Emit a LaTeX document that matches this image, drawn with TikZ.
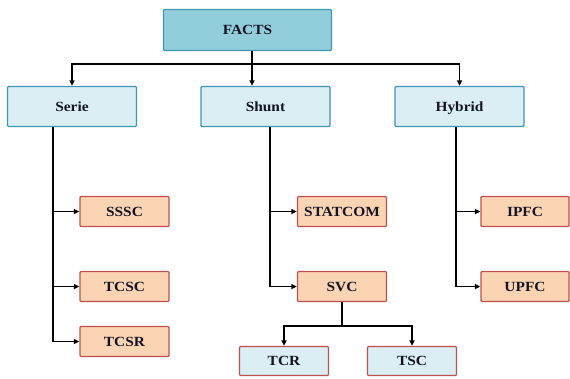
\documentclass[tikz,border=0pt]{standalone}
\usepackage{fontspec}
\setmainfont{Liberation Serif}[FakeStretch=1.1]
\usetikzlibrary{arrows.meta}
\definecolor{factsfill}{RGB}{146,205,220}
\definecolor{tealborder}{RGB}{62,150,178}
\definecolor{lightblue}{RGB}{218,238,243}
\definecolor{orangefill}{RGB}{251,212,180}
\definecolor{redborder}{RGB}{192,80,77}
\definecolor{txt}{RGB}{20,20,35}
\tikzset{
  base/.style={rectangle, rounded corners=1pt, line width=1.3pt, inner sep=0pt,
    text height=9.3pt, text depth=0pt,
    font=\fontsize{14}{16}\selectfont\bfseries, text=txt},
  topbox/.style={base, draw=tealborder, fill=factsfill},
  catbox/.style={base, draw=tealborder, fill=lightblue, minimum width=129pt, minimum height=40pt},
  devbox/.style={base, draw=redborder, fill=orangefill, minimum width=89pt, minimum height=30pt},
  subbox/.style={base, draw=redborder, fill=lightblue, minimum width=89pt, minimum height=29pt},
  conn/.style={line width=1.3pt, draw=black},
  arr/.style={conn, -{Triangle[length=5.5pt,width=5pt]}}
}
\begin{document}
\begin{tikzpicture}[x=1pt,y=-1pt]
\useasboundingbox (0,0) rectangle (570,378);
\node[topbox, minimum width=168pt, minimum height=41pt] (FACTS) at (247.5,30) {FACTS};
\node[catbox] (Serie) at (72,106.5) {Serie};
\node[catbox] (Shunt) at (265.5,106.5) {Shunt};
\node[catbox] (Hybrid) at (459.5,106.5) {Hybrid};
\node[devbox] (SSSC) at (124.5,211.5) {SSSC};
\node[devbox] (TCSC) at (124.5,286.5) {TCSC};
\node[devbox] (TCSR) at (124.5,341.5) {TCSR};
\node[devbox] (STATCOM) at (342,211.5) {STATCOM};
\node[devbox] (SVC) at (342,286.5) {SVC};
\node[devbox, minimum width=88pt] (IPFC) at (525,211.5) {IPFC};
\node[devbox, minimum width=88pt] (UPFC) at (525,286.5) {UPFC};
\node[subbox] (TCR) at (284,361) {TCR};
\node[subbox] (TSC) at (412,361) {TSC};
% connectors
\coordinate (bus) at (252,64);
\draw[conn] (bus |- FACTS.south) -- (bus);
\draw[arr] (bus) -| (Serie.north);
\draw[arr] (bus) -- (bus |- Shunt.north);
\draw[arr] (bus) -| (Hybrid.north);
\coordinate (sl) at (53,0);
\draw[arr] (sl |- Serie.south) |- (SSSC.west);
\draw[arr] (sl |- Serie.south) |- (TCSC.west);
\draw[arr] (sl |- Serie.south) |- (TCSR.west);
\coordinate (shl) at (270,0);
\draw[arr] (shl |- Shunt.south) |- (STATCOM.west);
\draw[arr] (shl |- Shunt.south) |- (SVC.west);
\coordinate (hl) at (456,0);
\draw[arr] (hl |- Hybrid.south) |- (IPFC.west);
\draw[arr] (hl |- Hybrid.south) |- (UPFC.west);
\coordinate (svb) at (342,326);
\draw[conn] (SVC.south) -- (svb);
\draw[arr] (svb) -| (TCR.north);
\draw[arr] (svb) -| (TSC.north);
\end{tikzpicture}
\end{document}
